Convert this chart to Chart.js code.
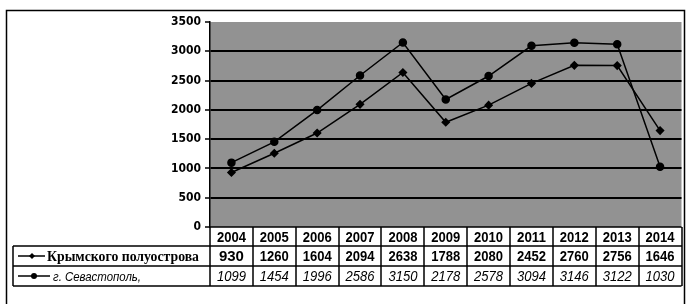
<!DOCTYPE html>
<html><head><meta charset="utf-8">
<script src="https://cdn.jsdelivr.net/npm/chart.js@4/dist/chart.umd.min.js"></script>
<style>html,body{margin:0;padding:0;background:#fff;}canvas{display:block;}</style>
</head><body>
<canvas id="c" width="687" height="304"></canvas>
<script>
const years = ['2004','2005','2006','2007','2008','2009','2010','2011','2012','2013','2014'];
const seriesNames = ['Крымского полуострова', 'г. Севастополь,'];
const crimea = [930, 1260, 1604, 2094, 2638, 1788, 2080, 2452, 2760, 2756, 1646];
const sevastopol = [1099, 1454, 1996, 2586, 3150, 2178, 2578, 3094, 3146, 3122, 1030];
const yTicks = [0, 500, 1000, 1500, 2000, 2500, 3000, 3500];

const NUM_FONT = "'Liberation Sans',Arial,sans-serif";

const bgPlugin = {
  id: 'bg',
  beforeDraw(chart) {
    const {ctx, chartArea: a} = chart;
    ctx.save();
    ctx.fillStyle = '#929292';
    ctx.fillRect(a.left, a.top, a.right - a.left, a.bottom - a.top);
    ctx.restore();
  }
};

const framePlugin = {
  id: 'frame',
  afterDraw(chart) {
    const {ctx, chartArea: a, scales: {x}} = chart;
    const band = x.getPixelForValue(1) - x.getPixelForValue(0);
    const rowH = [19, 20, 20];
    const y0 = a.bottom, y1 = y0 + rowH[0], y2 = y1 + rowH[1], y3 = y2 + rowH[2];
    const L = a.left, R = a.right;
    const legL = 13;
    ctx.save();
    ctx.fillStyle = '#fff';
    ctx.fillRect(L, y0, R - L, y1 - y0);
    ctx.strokeStyle = '#000';
    ctx.lineWidth = 1.5;
    // outer frame (open at bottom, as in the scan)
    ctx.beginPath();
    ctx.moveTo(6.5, 304); ctx.lineTo(6.5, 10.5); ctx.lineTo(684.5, 10.5); ctx.lineTo(684.5, 304);
    ctx.stroke();
    // table grid
    ctx.beginPath();
    ctx.moveTo(L, y0); ctx.lineTo(R, y0);
    ctx.moveTo(legL, y1); ctx.lineTo(R, y1);
    ctx.moveTo(legL, y2); ctx.lineTo(R, y2);
    ctx.moveTo(legL, y3); ctx.lineTo(R, y3);
    ctx.moveTo(legL, y1); ctx.lineTo(legL, y3);
    for (let i = 0; i <= years.length; i++) {
      const px = Math.round(x.getPixelForValue(0) - band / 2 + i * band);
      ctx.moveTo(px, y0); ctx.lineTo(px, y3);
    }
    ctx.stroke();
    // texts
    ctx.fillStyle = '#000';
    ctx.textAlign = 'center';
    ctx.textBaseline = 'middle';
    years.forEach((yr, i) => {
      const cx = x.getPixelForValue(i);
      ctx.font = 'bold 15px ' + NUM_FONT;
      ctx.fillText(yr, cx, (y0 + y1) / 2 + 1, 29);
      ctx.fillText(String(crimea[i]), cx, (y1 + y2) / 2 + 1, 29);
      ctx.font = 'italic 15px ' + NUM_FONT;
      ctx.fillText(String(sevastopol[i]), cx, (y2 + y3) / 2 + 1, 29);
    });
    // legend keys
    ctx.lineWidth = 1.5;
    const keys = [[(y1 + y2) / 2, 'rectRot', 32, 45], [(y2 + y3) / 2, 'circle', 34, 50]];
    keys.forEach(([ky, st, mx, ex]) => {
      ctx.beginPath(); ctx.moveTo(18, ky); ctx.lineTo(ex, ky); ctx.stroke();
      ctx.beginPath();
      if (st === 'circle') { ctx.arc(mx, ky, 3, 0, Math.PI * 2); }
      else { ctx.moveTo(mx, ky - 3); ctx.lineTo(mx + 3, ky); ctx.lineTo(mx, ky + 3); ctx.lineTo(mx - 3, ky); ctx.closePath(); }
      ctx.fill();
    });
    ctx.textAlign = 'left';
    ctx.font = "bold 14px 'Liberation Serif','Times New Roman',serif";
    ctx.fillText(seriesNames[0], 47, (y1 + y2) / 2 + 1, 152);
    ctx.font = "italic 13px 'Liberation Sans',Arial,sans-serif";
    ctx.fillText(seriesNames[1], 53, (y2 + y3) / 2 + 1, 88);
    ctx.restore();
  }
};

new Chart(document.getElementById('c'), {
  type: 'line',
  data: {
    labels: years,
    datasets: [
      { label: seriesNames[0], data: crimea, borderColor: '#000', backgroundColor: '#000',
        borderWidth: 1.5, pointStyle: 'rectRot', pointRadius: 3.5, tension: 0 },
      { label: seriesNames[1], data: sevastopol, borderColor: '#000', backgroundColor: '#000',
        borderWidth: 1.5, pointStyle: 'circle', pointRadius: 3.5, tension: 0 }
    ]
  },
  options: {
    responsive: false,
    animation: false,
    devicePixelRatio: 1,
    layout: { padding: { left: 155, right: 5, top: 22, bottom: 77 } },
    plugins: { legend: { display: false }, tooltip: { enabled: false } },
    scales: {
      x: { type: 'category', offset: true, display: false },
      y: {
        min: 0, max: 3500,
        afterBuildTicks: s => { s.ticks = yTicks.map(v => ({ value: v })); },
        afterFit: s => { s.width = 55; },
        ticks: { color: '#000', padding: 4, callback: v => String(v),
                 font: { family: "'DejaVu Sans Condensed','DejaVu Sans',sans-serif", size: 12, weight: 'bold' } },
        grid: {
          color: c => (c.tick && (c.tick.value === 3500 || c.tick.value === 0)) ? 'rgba(0,0,0,0)' : '#000',
          lineWidth: 2, drawTicks: true, tickLength: 5, tickColor: '#000', tickWidth: 1.5
        },
        border: { display: true, color: '#000', width: 1.5 }
      }
    }
  },
  plugins: [bgPlugin, framePlugin]
});
</script>
</body></html>
